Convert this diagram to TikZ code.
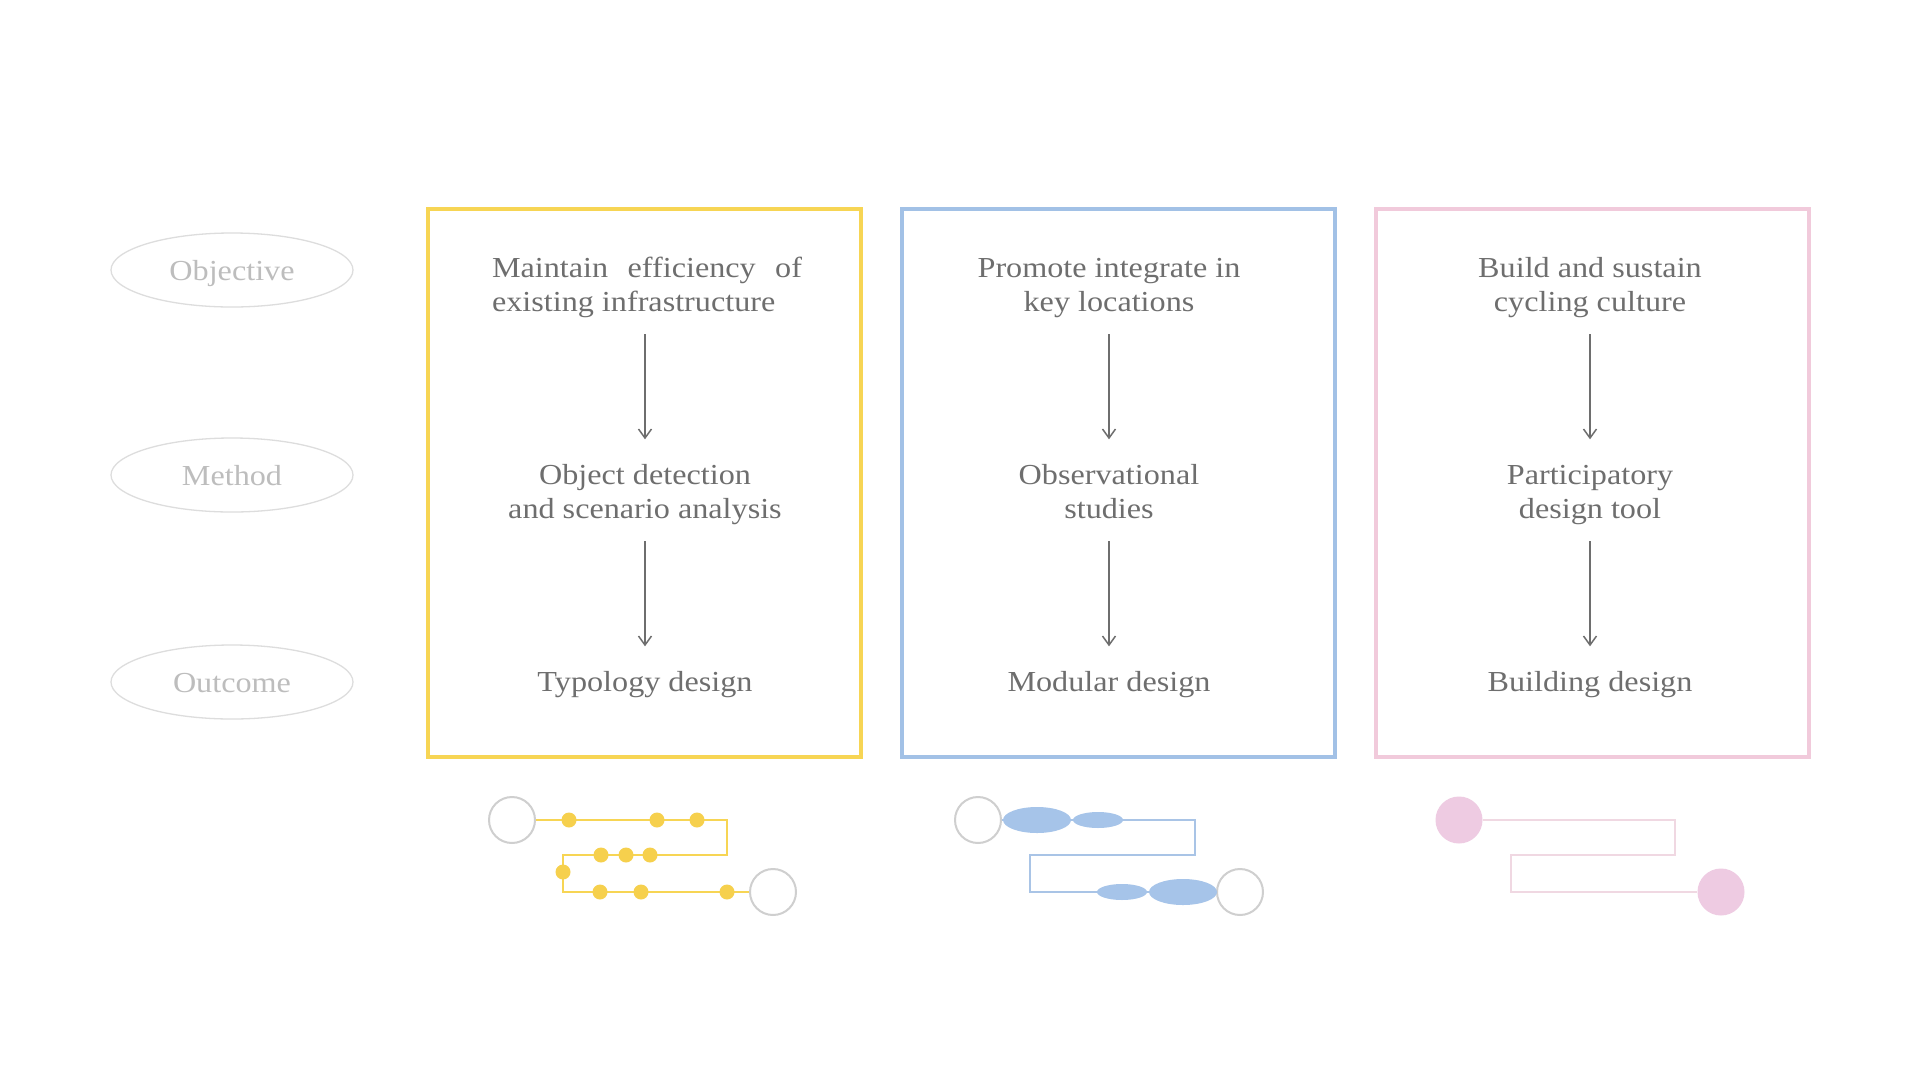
\documentclass[tikz,border=0pt]{standalone}
\usepackage{fontspec}
\setmainfont{Liberation Serif}[FakeStretch=1.11]
\usetikzlibrary{arrows.meta,shapes.geometric}
\definecolor{txtgray}{HTML}{6E6E6E}
\definecolor{lblgray}{HTML}{BDBDBD}
\definecolor{ellgray}{HTML}{DDDDDD}
\definecolor{ylw}{HTML}{F7D554}
\definecolor{blu}{HTML}{A2C1E6}
\definecolor{pnk}{HTML}{F1CADB}
\definecolor{ringgray}{HTML}{CFCFCF}
\definecolor{ydot}{HTML}{F6D04D}
\definecolor{bdot}{HTML}{A6C4E9}
\definecolor{pdot}{HTML}{EECBE2}
\definecolor{pline}{HTML}{F0D8E2}
\definecolor{bline}{HTML}{A9C4E6}
\begin{document}
\begin{tikzpicture}[x=1pt,y=-1pt,
  rowlabel/.style={ellipse, draw=ellgray, line width=1.3pt, minimum width=242pt, minimum height=74pt, inner sep=0pt, text height=24pt, text depth=4pt, text=lblgray, font=\fontsize{29}{34}\selectfont},
  body/.style={text=txtgray, font=\fontsize{29}{34}\selectfont, align=center, inner sep=0pt},
  boxframe/.style={line width=4pt},
  flow/.style={draw=txtgray, line width=1.5pt, -{Straight Barb[length=9pt,width=13pt,line width=1.5pt]}, shorten <=12pt, shorten >=21.5pt},
  ringnode/.style={circle, draw=ringgray, line width=2pt, minimum size=46pt, inner sep=0pt, fill=white},
  ydotnode/.style={circle, fill=ydot, minimum size=15pt, inner sep=0pt},
  pdotnode/.style={circle, fill=pdot, minimum size=47pt, inner sep=0pt},
  yroute/.style={draw=ylw, line width=2pt},
  broute/.style={draw=bline, line width=2pt},
  proute/.style={draw=pline, line width=2pt}
]
\useasboundingbox[fill=white] (0,0) rectangle (1920,1080);

% row labels
\node[rowlabel] (lobj) at (232,270) {Objective};
\node[rowlabel] (lmet) at (232,475) {Method};
\node[rowlabel] (lout) at (232,682) {Outcome};

% frames
\draw[boxframe, draw=ylw] (428,209) rectangle (861,757);
\draw[boxframe, draw=blu] (902,209) rectangle (1335,757);
\draw[boxframe, draw=pnk] (1376,209) rectangle (1809,757);

% column 1
\node[body, align=left] (o1) at (647,288) {\strut\makebox[310pt][s]{Maintain efficiency of}\\\strut existing infrastructure};
\node[body] (m1) at (645,495) {\strut Object detection\\\strut and scenario analysis};
\node[body] (r1) at (645,685) {\strut Typology design};
\draw[flow] (o1.south -| m1) -- (m1);
\draw[flow] (m1) -- (r1);

% column 2
\node[body] (o2) at (1109,288) {\strut Promote integrate in\\\strut key locations};
\node[body] (m2) at (1109,495) {\strut Observational\\\strut studies};
\node[body] (r2) at (1109,685) {\strut Modular design};
\draw[flow] (o2) -- (m2);
\draw[flow] (m2) -- (r2);

% column 3
\node[body] (o3) at (1590,288) {\strut Build and sustain\\\strut cycling culture};
\node[body] (m3) at (1590,495) {\strut Participatory\\\strut design tool};
\node[body] (r3) at (1590,685) {\strut Building design};
\draw[flow] (o3) -- (m3);
\draw[flow] (m3) -- (r3);

% yellow route
\node[ringnode] (ya) at (512,820) {};
\node[ringnode] (yb) at (773,892) {};
\coordinate (yc1) at (727,820);
\coordinate (yc2) at (727,855);
\coordinate (yc3) at (563,855);
\coordinate (yc4) at (563,892);
\draw[yroute] (ya.east) -- (yc1) -- (yc2) -- (yc3) -- (yc4) -- (yb.west);
\foreach \px/\py [count=\i] in {569/820, 657/820, 697/820, 601/855, 626/855, 650/855, 563/872, 600/892, 641/892, 727/892}
  \node[ydotnode] (yd\i) at (\px,\py) {};

% blue route
\node[ringnode] (ba) at (978,820) {};
\node[ringnode] (bb) at (1240,892) {};
\coordinate (bc1) at (1195,820);
\coordinate (bc2) at (1195,855);
\coordinate (bc3) at (1030,855);
\coordinate (bc4) at (1030,892);
\draw[broute] (ba.east) -- (bc1) -- (bc2) -- (bc3) -- (bc4) -- (bb.west);
\fill[bdot] (1037,820) ellipse [x radius=34, y radius=13];
\fill[bdot] (1098,820) ellipse [x radius=25, y radius=8];
\fill[bdot] (1122,892) ellipse [x radius=25, y radius=8];
\fill[bdot] (1183,892) ellipse [x radius=34, y radius=13];

% pink route
\node[pdotnode] (pa) at (1459,820) {};
\node[pdotnode] (pb) at (1721,892) {};
\coordinate (pc1) at (1675,820);
\coordinate (pc2) at (1675,855);
\coordinate (pc3) at (1511,855);
\coordinate (pc4) at (1511,892);
\draw[proute] (pa.east) -- (pc1) -- (pc2) -- (pc3) -- (pc4) -- (pb.west);
\end{tikzpicture}
\end{document}
